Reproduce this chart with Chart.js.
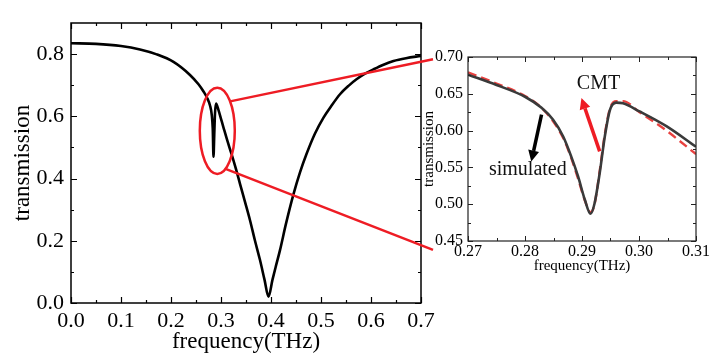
<!DOCTYPE html>
<html><head><meta charset="utf-8">
<script src="https://cdn.jsdelivr.net/npm/chart.js@4.4.1/dist/chart.umd.min.js"></script>
<style>
html,body{margin:0;padding:0;background:#fff;}
#wrap{position:relative;width:720px;height:356px;background:#fff;}
canvas{position:absolute;left:0;top:0;}
</style></head><body>
<div id="wrap"><canvas id="main" width="720" height="356"></canvas><canvas id="inset" width="720" height="356"></canvas></div>
<script>
// ---- data ----
const mainFreq  = [0, 0.05, 0.1, 0.138, 0.17, 0.205, 0.238, 0.255, 0.265, 0.272, 0.278, 0.2815, 0.2835, 0.285, 0.2865, 0.288, 0.29, 0.295, 0.3, 0.305, 0.313, 0.321, 0.33, 0.338, 0.348, 0.358, 0.368, 0.378, 0.387, 0.395, 0.403, 0.41, 0.418, 0.43, 0.445, 0.458, 0.471, 0.488, 0.505, 0.52, 0.538, 0.555, 0.571, 0.588, 0.605, 0.625, 0.645, 0.67, 0.7];
const mainTrans = [0.835, 0.833, 0.826, 0.815, 0.800, 0.775, 0.733, 0.703, 0.680, 0.660, 0.635, 0.605, 0.56, 0.47, 0.54, 0.61, 0.641, 0.62, 0.592, 0.564, 0.52, 0.479, 0.43, 0.383, 0.325, 0.266, 0.20, 0.138, 0.075, 0.02, 0.075, 0.12, 0.17, 0.255, 0.35, 0.42, 0.479, 0.545, 0.596, 0.632, 0.671, 0.698, 0.719, 0.737, 0.751, 0.766, 0.778, 0.787, 0.794];
const mainXTicks = [0, 0.1, 0.2, 0.3, 0.4, 0.5, 0.6, 0.7];
const mainYTicks = [0, 0.2, 0.4, 0.6, 0.8];

const insetFreq = [0.27, 0.275, 0.28, 0.2829, 0.2849, 0.2867, 0.2881, 0.2893, 0.2905, 0.2915, 0.2922, 0.2931, 0.294, 0.2949, 0.296, 0.2972, 0.3001, 0.3048, 0.31];
const simulated = [0.676, 0.662, 0.646, 0.631, 0.615, 0.592, 0.565, 0.538, 0.506, 0.487, 0.501, 0.542, 0.592, 0.628, 0.638, 0.637, 0.626, 0.606, 0.578];
const cmt       = [0.679, 0.664, 0.647, 0.631, 0.613, 0.590, 0.563, 0.535, 0.505, 0.489, 0.500, 0.545, 0.595, 0.630, 0.640, 0.640, 0.625, 0.600, 0.568];
const insetXTicks = [0.27, 0.28, 0.29, 0.30, 0.31];
const insetYTicks = [0.45, 0.50, 0.55, 0.60, 0.65, 0.70];

const SERIF = '"Liberation Serif", "Times New Roman", serif';
const RED = '#ee1c24';

function mids(arr, max) {
  const out = [];
  for (let i = 0; i < arr.length - 1; i++) out.push((arr[i] + arr[i + 1]) / 2);
  const step = arr[1] - arr[0];
  const last = arr[arr.length - 1] + step / 2;
  if (last < max - 1e-9) out.push(last);
  return out;
}

const framePlugin = {
  id: 'frame',
  afterDatasetsDraw(chart, args, o) {
    const {ctx, chartArea: a} = chart;
    const xs = chart.scales.x, ys = chart.scales.y;
    ctx.save();
    ctx.strokeStyle = o.color; ctx.lineWidth = o.lineWidth;
    ctx.beginPath();
    const xt = (vals, len) => vals.forEach(v => {
      const p = Math.round(xs.getPixelForValue(v)) + 0.5;
      ctx.moveTo(p, a.bottom); ctx.lineTo(p, a.bottom - len);
      ctx.moveTo(p, a.top); ctx.lineTo(p, a.top + len);
    });
    const yt = (vals, len) => vals.forEach(v => {
      const p = Math.round(ys.getPixelForValue(v)) + 0.5;
      ctx.moveTo(a.left, p); ctx.lineTo(a.left + len, p);
      ctx.moveTo(a.right, p); ctx.lineTo(a.right - len, p);
    });
    xt(o.xMajor, o.major); xt(o.xMinor, o.minor);
    yt(o.yMajor, o.major); yt(o.yMinor, o.minor);
    ctx.stroke();
    ctx.lineWidth = o.frameWidth;
    ctx.strokeRect(a.left, a.top, a.right - a.left, a.bottom - a.top);
    ctx.restore();
  }
};

const ellipsePlugin = {
  id: 'ellipse',
  afterDatasetsDraw(chart, args, o) {
    const {ctx} = chart;
    const xs = chart.scales.x, ys = chart.scales.y;
    const cx = xs.getPixelForValue(o.cx), cy = ys.getPixelForValue(o.cy);
    const rx = Math.abs(xs.getPixelForValue(o.cx + o.rx) - cx);
    const ry = Math.abs(ys.getPixelForValue(o.cy + o.ry) - cy);
    ctx.save();
    ctx.strokeStyle = RED; ctx.lineWidth = 2.5;
    ctx.beginPath(); ctx.ellipse(cx, cy, rx, ry, 0, 0, Math.PI * 2); ctx.stroke();
    ctx.restore();
  }
};

function arrow(ctx, x1, y1, x2, y2, color, w, hl, hw) {
  const ang = Math.atan2(y2 - y1, x2 - x1);
  const bx = x2 - hl * Math.cos(ang), by = y2 - hl * Math.sin(ang);
  ctx.save();
  ctx.strokeStyle = color; ctx.fillStyle = color; ctx.lineWidth = w;
  ctx.beginPath(); ctx.moveTo(x1, y1); ctx.lineTo(bx, by); ctx.stroke();
  ctx.beginPath();
  ctx.moveTo(x2, y2);
  ctx.lineTo(bx + hw * Math.sin(ang), by - hw * Math.cos(ang));
  ctx.lineTo(bx - hw * Math.sin(ang), by + hw * Math.cos(ang));
  ctx.closePath(); ctx.fill();
  ctx.restore();
}

const insetDecor = {
  id: 'insetDecor',
  afterDraw(chart, args, o) {
    const {ctx} = chart;
    const xs = chart.scales.x, ys = chart.scales.y;
    const P = (f, t) => [xs.getPixelForValue(f), ys.getPixelForValue(t)];
    // arrows
    let s = P(0.2931, 0.5717), e = P(0.2899, 0.6443);
    arrow(ctx, s[0], s[1], e[0], e[1], RED, 3.5, 11, 5.5);
    s = P(0.2829, 0.6216); e = P(0.2811, 0.558);
    arrow(ctx, s[0], s[1], e[0], e[1], '#000', 3.5, 11, 5.5);
    // texts
    ctx.save();
    ctx.fillStyle = '#111';
    ctx.textAlign = 'center'; ctx.textBaseline = 'middle';
    ctx.font = '20px ' + SERIF;
    let p = P(0.2929, 0.663);
    ctx.fillText('CMT', p[0], p[1]);
    p = P(0.2805, 0.5465);
    ctx.fillText('simulated', p[0], p[1]);
    ctx.restore();
    // connector lines from the ellipse in the main chart
    const m = window.mainChart;
    if (m) {
      const mo = m.options.plugins.ellipse;
      const mx = m.scales.x, my = m.scales.y;
      const cx = mx.getPixelForValue(mo.cx), cy = my.getPixelForValue(mo.cy);
      const rx = Math.abs(mx.getPixelForValue(mo.cx + mo.rx) - cx);
      const ry = Math.abs(my.getPixelForValue(mo.cy + mo.ry) - cy);
      const ex = chart.chartArea.left - 35;
      const pts = [[-43, 0.697], [62, 0.438]];
      ctx.save();
      ctx.strokeStyle = RED; ctx.lineWidth = 2.5;
      pts.forEach(([deg, v]) => {
        const t = deg * Math.PI / 180;
        ctx.beginPath();
        ctx.moveTo(cx + rx * Math.cos(t), cy + ry * Math.sin(t));
        ctx.lineTo(ex, ys.getPixelForValue(v));
        ctx.stroke();
      });
      ctx.restore();
    }
  }
};

Chart.defaults.font.family = SERIF;
Chart.defaults.color = '#000';

window.mainChart = new Chart(document.getElementById('main'), {
  type: 'line',
  data: {
    datasets: [{
      data: mainFreq.map((f, i) => ({x: f, y: mainTrans[i]})),
      borderColor: '#000', borderWidth: 2.6, pointRadius: 0,
      cubicInterpolationMode: 'monotone', fill: false
    }]
  },
  options: {
    responsive: false, animation: false, devicePixelRatio: 1,
    layout: {padding: {left: 0, right: 299, top: 23, bottom: 0}},
    plugins: {
      legend: {display: false}, tooltip: {enabled: false},
      frame: {color: '#000', lineWidth: 1.2, frameWidth: 1.5, major: 6, minor: 3,
        xMajor: mainXTicks, xMinor: mids(mainXTicks, 0.7),
        yMajor: mainYTicks, yMinor: mids(mainYTicks, 0.9)},
      ellipse: {cx: 0.2926, cy: 0.5536, rx: 0.035, ry: 0.1386}
    },
    scales: {
      x: {
        type: 'linear', min: 0, max: 0.7,
        afterBuildTicks: s => { s.ticks = mainXTicks.map(v => ({value: v})); },
        afterFit: s => { s.height = 53; },
        grid: {display: false, drawTicks: false}, border: {display: false},
        ticks: {font: {size: 22}, padding: 5, maxRotation: 0, callback: v => v.toFixed(1)},
        title: {display: true, text: 'frequency(THz)', font: {size: 23, lineHeight: 1.2}, padding: {top: 0, bottom: 0}}
      },
      y: {
        type: 'linear', min: 0, max: 0.9,
        afterBuildTicks: s => { s.ticks = mainYTicks.map(v => ({value: v})); },
        afterFit: s => { s.width = 71; },
        grid: {display: false, drawTicks: false}, border: {display: false},
        ticks: {font: {size: 22}, padding: 7, callback: v => v.toFixed(1)},
        title: {display: true, text: 'transmission', font: {size: 23, lineHeight: 1.2}, padding: {top: 9, bottom: 0}}
      }
    }
  },
  plugins: [framePlugin, ellipsePlugin]
});

window.insetChart = new Chart(document.getElementById('inset'), {
  type: 'line',
  data: {
    datasets: [
      {label: 'simulated', data: insetFreq.map((f, i) => ({x: f, y: simulated[i]})),
        borderColor: '#3a3a3a', borderWidth: 2.6, pointRadius: 0, cubicInterpolationMode: 'monotone', fill: false},
      {label: 'CMT', data: insetFreq.map((f, i) => ({x: f, y: cmt[i]})),
        borderColor: '#e8413f', borderWidth: 2.4, borderDash: [9, 5], pointRadius: 0, cubicInterpolationMode: 'monotone', fill: false}
    ]
  },
  options: {
    responsive: false, animation: false, devicePixelRatio: 1,
    layout: {padding: {left: 420, right: 24, top: 57, bottom: 78}},
    plugins: {
      legend: {display: false}, tooltip: {enabled: false},
      frame: {color: '#222', lineWidth: 1, frameWidth: 1.2, major: 5, minor: 3,
        xMajor: insetXTicks, xMinor: mids(insetXTicks, 0.31),
        yMajor: insetYTicks, yMinor: mids(insetYTicks, 0.70)}
    },
    scales: {
      x: {
        type: 'linear', min: 0.27, max: 0.31,
        afterBuildTicks: s => { s.ticks = insetXTicks.map(v => ({value: v})); },
        afterFit: s => { s.height = 37; },
        grid: {display: false, drawTicks: false}, border: {display: false},
        ticks: {font: {size: 16}, padding: 1, maxRotation: 0, callback: v => v.toFixed(2)},
        title: {display: true, text: 'frequency(THz)', font: {size: 15, lineHeight: 1.2}, padding: {top: 0, bottom: 3}}
      },
      y: {
        type: 'linear', min: 0.45, max: 0.70,
        afterBuildTicks: s => { s.ticks = insetYTicks.map(v => ({value: v})); },
        afterFit: s => { s.width = 48; },
        grid: {display: false, drawTicks: false}, border: {display: false},
        ticks: {font: {size: 16}, padding: 5, callback: v => v.toFixed(2)},
        title: {display: true, text: 'transmission', font: {size: 15, lineHeight: 1.2}, padding: {top: 0, bottom: 0}}
      }
    }
  },
  plugins: [framePlugin, insetDecor]
});
</script>
</body></html>
